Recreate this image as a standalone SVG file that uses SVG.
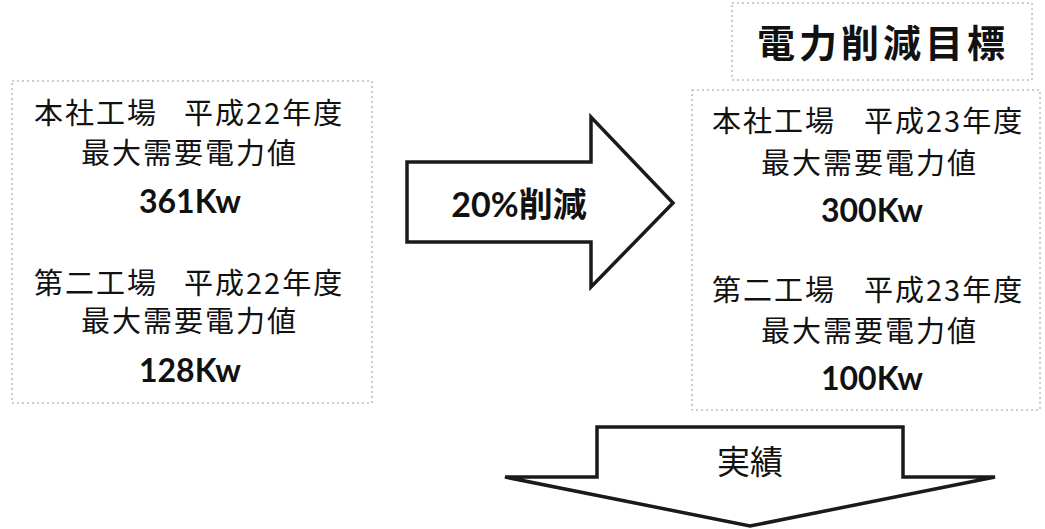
<svg xmlns="http://www.w3.org/2000/svg" width="1045" height="529" viewBox="0 0 1045 529">
<style>
.box{fill:#fff;stroke:#9a9a9a;stroke-width:1;stroke-dasharray:2 3}
.arrow{fill:#fff;stroke:#1a1a1a;stroke-width:3.5;stroke-linejoin:miter}
.jp{font-family:"Noto Sans CJK JP","Noto Sans",sans-serif;font-size:29px;letter-spacing:2px;fill:#111}
.num{font-family:Lato,"Liberation Sans",sans-serif;font-weight:bold;font-size:32px;fill:#111;text-anchor:middle}
.title{font-family:"Noto Sans CJK JP",sans-serif;font-weight:bold;font-size:38px;letter-spacing:4px;fill:#111;text-anchor:middle}
.lbl{font-family:"Noto Sans CJK JP",sans-serif;font-weight:bold;font-size:34px;fill:#111;text-anchor:middle}
</style>
<rect width="1045" height="529" fill="#fff"/>
<g id="title">
<rect class="box" x="732" y="3" width="300" height="77"/>
<text class="title" x="883" y="57">電力削減目標</text>
</g>
<g id="before">
<rect class="box" x="12" y="81" width="360" height="322"/>
<text class="jp" x="34" y="124">本社工場</text>
<text class="jp" x="184" y="124">平成22年度</text>
<text class="jp" x="81" y="164">最大需要電力値</text>
<text class="num" x="190" y="213">361Kw</text>
<text class="jp" x="34" y="294">第二工場</text>
<text class="jp" x="184" y="294">平成22年度</text>
<text class="jp" x="81" y="332">最大需要電力値</text>
<text class="num" x="190" y="382">128Kw</text>
</g>
<g id="target">
<rect class="box" x="692" y="90" width="348" height="320"/>
<text class="jp" x="712" y="132">本社工場</text>
<text class="jp" x="864" y="132">平成23年度</text>
<text class="jp" x="761" y="174">最大需要電力値</text>
<text class="num" x="872" y="222">300Kw</text>
<text class="jp" x="712" y="301">第二工場</text>
<text class="jp" x="864" y="301">平成23年度</text>
<text class="jp" x="761" y="342">最大需要電力値</text>
<text class="num" x="872" y="390">100Kw</text>
</g>
<g id="connectors">
<g id="reduce-arrow">
<polygon class="arrow" points="407,162 591,162 591,117 673,203 591,287 591,242 407,242"/>
<text class="lbl" x="519" y="217"><tspan font-family="Lato,'Liberation Sans',sans-serif">20%</tspan>削減</text>
</g>
<g id="result-arrow">
<polygon class="arrow" points="597,427 903,427 903,477 995,477 750,526 505,477 597,477"/>
<text class="jp" x="750" y="474" style="font-size:33px;letter-spacing:0;text-anchor:middle">実績</text>
</g>
</g>
</svg>
